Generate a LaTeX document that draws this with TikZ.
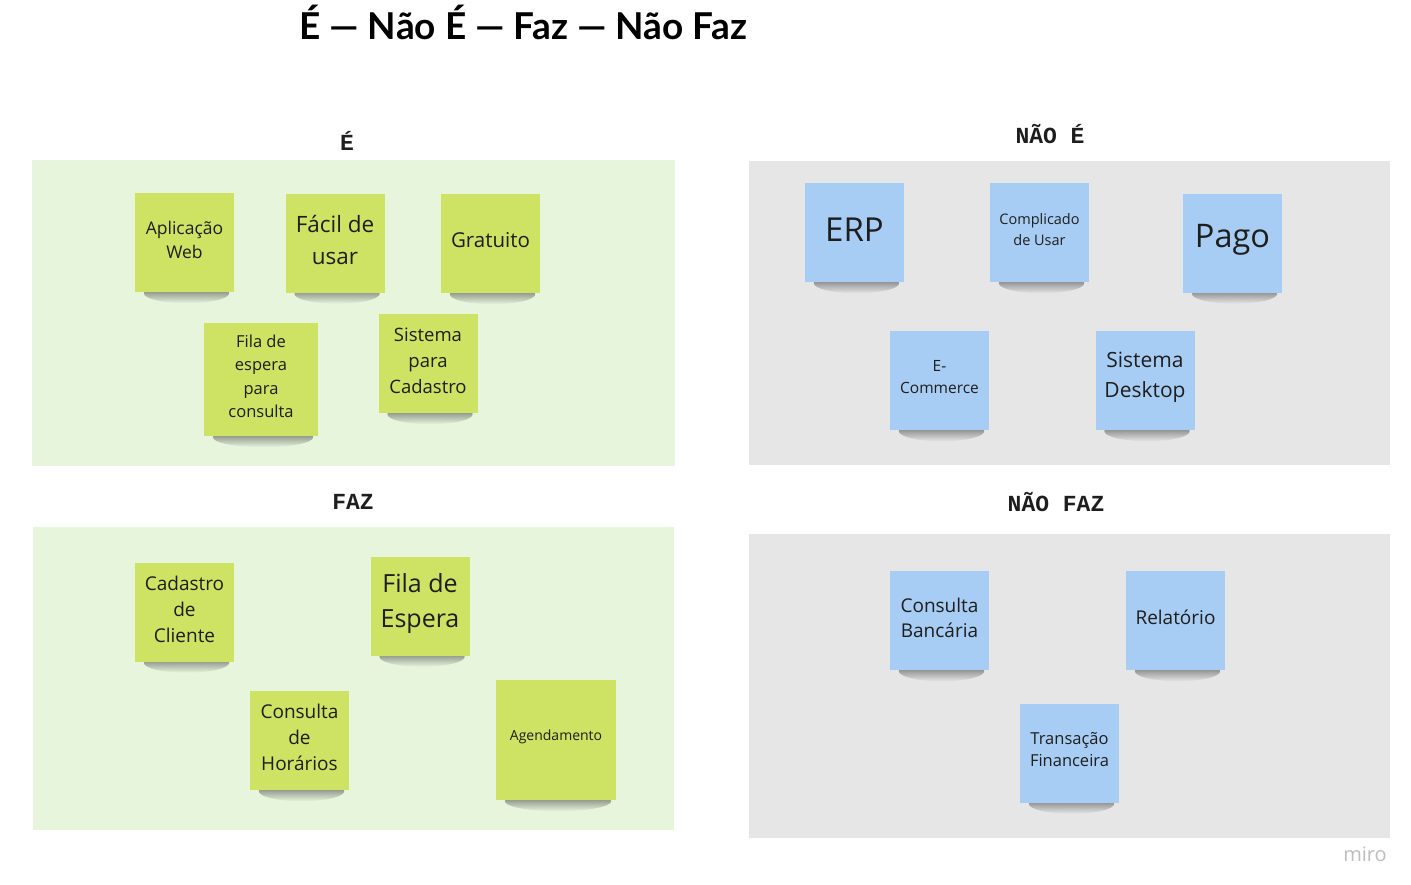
\documentclass[tikz,border=0pt]{standalone}
\usepackage{fontspec}
\setmainfont{Open Sans}
\setmonofont{Liberation Mono}
\newfontfamily\titlefont{Lato}
\usetikzlibrary{fadings,calc}
\definecolor{panelgreen}{HTML}{E8F5DD}
\definecolor{panelgray}{HTML}{E6E6E6}
\definecolor{notegreen}{HTML}{CEE264}
\definecolor{noteblue}{HTML}{A8CDF4}
\definecolor{inktext}{HTML}{1E1E1E}
\definecolor{logogray}{HTML}{BDBDBD}
\pgfdeclarelayer{panels}
\pgfdeclarelayer{shade}
\pgfsetlayers{panels,shade,main}
\newcommand\fsz[2]{\fontsize{#1}{#2}\selectfont}
\newcommand\noteshadow[1]{%
  \path let \p1=(#1.south west), \p2=(#1.south east) in
    [fill=black!80,opacity=.8,path fading=south]
    ([xshift=2pt,yshift=-1pt]#1.south) ellipse [x radius={(\x2-\x1)/2-7pt}, y radius=10pt];}
\tikzset{
  header/.style={font=\ttfamily\bfseries\fsz{23}{27}, text=inktext},
  note/.style={fill=#1, minimum width=99, minimum height=99, inner sep=0pt},
  notetext/.style={align=center, text=inktext, inner sep=0pt, yshift=3pt},
}
\begin{document}
\begin{tikzpicture}[x=1pt,y=-1pt]
			\begin{pgfonlayer}{panels}
			\fill[white] (0,0) rectangle (1411,884);
			\fill[panelgreen] (32,160) rectangle (675,466);
			\fill[panelgray] (749,161) rectangle (1390,465);
			\fill[panelgreen] (33,527) rectangle (674,830);
			\fill[panelgray] (749,534) rectangle (1390,838);
			\end{pgfonlayer}
			\useasboundingbox (0,0) rectangle (1411,884);
			\node (title) at (523,22) {\titlefont\bfseries\fsz{37}{44}É — Não É — Faz — Não Faz};
			\node[header] (hE)    at (347,141) {É};
			\node[header] (hNE)   at (1050,134) {NÃO É};
			\node[header] (hF)    at (353,502) {FAZ};
			\node[header] (hNF)   at (1056,502) {NÃO FAZ};
			\node[note=notegreen, label={[notetext, font=\fsz{17.5}{24}]center:{Aplicação\\Web}}] (web) at (184.5,242.5) {};
			\node[note=notegreen, label={[notetext, font=\fsz{22.5}{32}]center:{Fácil de\\usar}}] (facil) at (335,243) {};
			\node[note=notegreen, label={[notetext, font=\fsz{20.5}{26}]center:{Gratuito}}] (gratis) at (490.5,243.5) {};
			\node[note=notegreen, minimum width=114, minimum height=113, label={[notetext, font=\fsz{16.5}{23.5}]center:{Fila de\\espera\\para\\consulta}}] (fila) at (261,379.5) {};
			\node[note=notegreen, label={[notetext, font=\fsz{18.5}{26}]center:{Sistema\\para\\Cadastro}}] (cadsis) at (428,363.5) {};
			\node[note=noteblue, label={[notetext, font=\fsz{33}{40}]center:{ERP}}] (erp) at (854.5,232.5) {};
			\node[note=noteblue, label={[notetext, font=\fsz{14.5}{21}]center:{Complicado\\de Usar}}] (compl) at (1039.5,232.5) {};
			\node[note=noteblue, label={[notetext, font=\fsz{32.5}{40}]center:{Pago}}] (pago) at (1232.5,243) {};
			\node[note=noteblue, label={[notetext, font=\fsz{15.5}{22}]center:{E-\\Commerce}}] (ecom) at (939.5,380.5) {};
			\node[note=noteblue, label={[notetext, font=\fsz{21}{30}]center:{Sistema\\Desktop}}] (desk) at (1145,380.5) {};
			\node[note=notegreen, label={[notetext, font=\fsz{19}{26}]center:{Cadastro\\de\\Cliente}}] (cadcli) at (184.5,612) {};
			\node[note=notegreen, label={[notetext, font=\fsz{25}{35}]center:{Fila de\\Espera}}] (filaesp) at (420,606) {};
			\node[note=notegreen, label={[notetext, font=\fsz{19}{26}]center:{Consulta\\de\\Horários}}] (horas) at (299.5,740.5) {};
			\node[note=notegreen, minimum width=120, minimum height=120, label={[notetext, font=\fsz{14}{18}]center:{Agendamento}}] (agenda) at (556,740) {};
			\node[note=noteblue, label={[notetext, font=\fsz{19}{25}]center:{Consulta\\Bancária}}] (banco) at (939.5,620.5) {};
			\node[note=noteblue, label={[notetext, font=\fsz{19}{25}]center:{Relatório}}] (relat) at (1175.5,620.5) {};
			\node[note=noteblue, label={[notetext, font=\fsz{16.5}{22}]center:{Transação\\Financeira}}] (transf) at (1069.5,753) {};
			\begin{pgfonlayer}{shade}
			\foreach \nm in {web,facil,gratis,fila,cadsis,erp,compl,pago,ecom,desk,cadcli,filaesp,horas,agenda,banco,relat,transf}
				\noteshadow{\nm};
			\end{pgfonlayer}
			\node[text=logogray, font=\fsz{20}{24}] (logo) at (1365,854) {miro};
			\end{tikzpicture}
\end{document}
